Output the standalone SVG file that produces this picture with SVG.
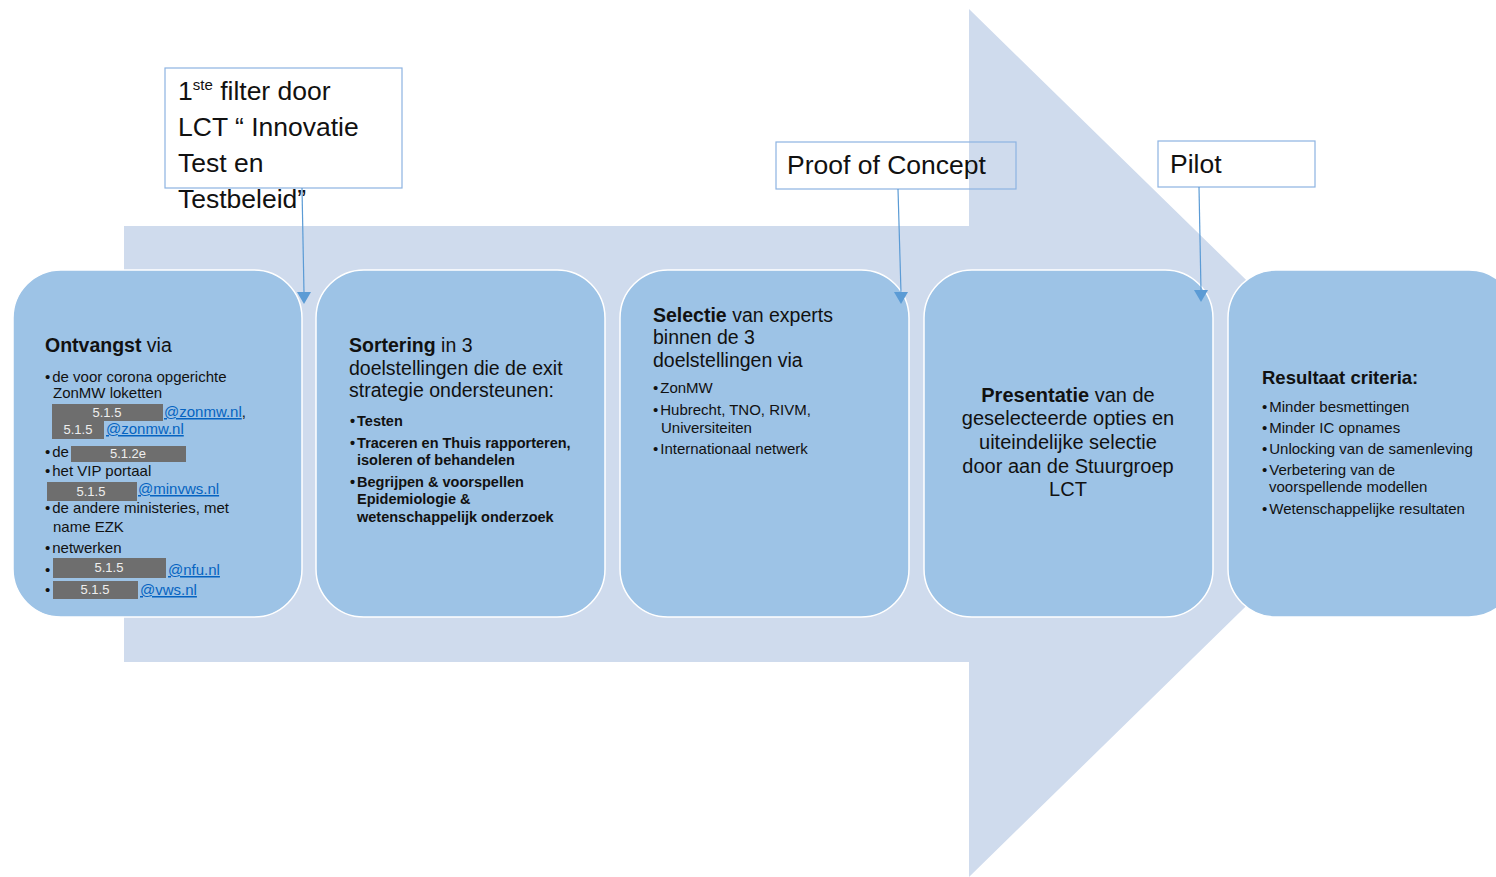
<svg xmlns="http://www.w3.org/2000/svg" width="1496" height="877" viewBox="0 0 1496 877">
<defs>
<style>
.t{font-family:"Liberation Sans",Arial,sans-serif;fill:#111;}
.h{font-size:19.5px;}
.b{font-size:15px;}
.bb{font-size:14.5px;font-weight:bold;}
.bold{font-weight:bold;}
.box{fill:#9DC3E6;stroke:#FFFFFF;stroke-width:1.5;}
.call{fill:none;stroke:#8DB3E2;stroke-width:1.2;}
.ct{font-family:"Liberation Sans",Arial,sans-serif;fill:#111;font-size:26.5px;}
.red{fill:#6E6E6E;}
.rt{font-family:"Liberation Sans",Arial,sans-serif;fill:#EEEEEE;font-size:13px;text-anchor:middle;}
.lk{font-family:"Liberation Sans",Arial,sans-serif;fill:#0563C1;font-size:15px;text-decoration:underline;}
.con{stroke:#5B9BD5;stroke-width:1.2;fill:none;}
.ah{fill:#5B9BD5;}
</style>
</defs>
<rect width="1496" height="877" fill="#FFFFFF"/>
<g id="big-arrow">
<polygon points="124,226 969,226 969,9 1413,443 969,877 969,662 124,662" fill="#CFDBED"/>
</g>
<g id="node-ontvangst">
<rect class="box" x="13" y="270" width="289" height="347" rx="48" ry="48"/>
<text class="t h" x="45" y="352"><tspan class="bold">Ontvangst</tspan> via</text>
<text class="t b" x="45" y="382">•<tspan dx="2">de voor corona opgerichte</tspan></text>
<text class="t b" x="53" y="398">ZonMW loketten</text>
<rect class="red" x="52" y="404" width="111" height="17"/>
<text class="rt" x="107" y="417">5.1.5</text>
<text x="164" y="417" class="t b"><tspan class="lk">@zonmw.nl</tspan>,</text>
<rect class="red" x="52" y="421" width="52" height="18"/>
<text class="rt" x="78" y="434">5.1.5</text>
<text class="lk" x="106" y="434">@zonmw.nl</text>
<text class="t b" x="45" y="457">•<tspan dx="2">de</tspan></text>
<rect class="red" x="71" y="446" width="115" height="16"/>
<text class="rt" x="128" y="458">5.1.2e</text>
<text class="t b" x="45" y="476">•<tspan dx="2">het VIP portaal</tspan></text>
<rect class="red" x="47" y="482" width="90" height="19"/>
<text class="rt" x="91" y="496">5.1.5</text>
<text class="lk" x="138" y="494">@minvws.nl</text>
<text class="t b" x="45" y="513">•<tspan dx="2">de andere ministeries, met</tspan></text>
<text class="t b" x="53" y="532">name EZK</text>
<text class="t b" x="45" y="553">•<tspan dx="2">netwerken</tspan></text>
<text class="t b" x="45" y="575">•</text>
<rect class="red" x="53" y="558" width="113" height="20"/>
<text class="rt" x="109" y="572">5.1.5</text>
<text class="lk" x="168" y="575">@nfu.nl</text>
<text class="t b" x="45" y="595">•</text>
<rect class="red" x="53" y="581" width="85" height="18"/>
<text class="rt" x="95" y="594">5.1.5</text>
<text class="lk" x="140" y="595">@vws.nl</text>
</g>
<g id="node-sortering">
<rect class="box" x="316" y="270" width="289" height="347" rx="48" ry="48"/>
<text class="t h" x="349" y="352"><tspan class="bold">Sortering</tspan> in 3</text>
<text class="t h" x="349" y="375">doelstellingen die de exit</text>
<text class="t h" x="349" y="397">strategie ondersteunen:</text>
<text class="t bb" x="350" y="426">•<tspan dx="2">Testen</tspan></text>
<text class="t bb" x="350" y="448">•<tspan dx="2">Traceren en Thuis rapporteren,</tspan></text>
<text class="t bb" x="357" y="465">isoleren of behandelen</text>
<text class="t bb" x="350" y="487">•<tspan dx="2">Begrijpen &amp; voorspellen</tspan></text>
<text class="t bb" x="357" y="504">Epidemiologie &amp;</text>
<text class="t bb" x="357" y="522">wetenschappelijk onderzoek</text>
</g>
<g id="node-selectie">
<rect class="box" x="620" y="270" width="289" height="347" rx="48" ry="48"/>
<text class="t h" x="653" y="322"><tspan class="bold">Selectie</tspan> van experts</text>
<text class="t h" x="653" y="344">binnen de 3</text>
<text class="t h" x="653" y="367">doelstellingen via</text>
<text class="t b" x="653" y="393">•<tspan dx="2">ZonMW</tspan></text>
<text class="t b" x="653" y="415">•<tspan dx="2">Hubrecht, TNO, RIVM,</tspan></text>
<text class="t b" x="661" y="433">Universiteiten</text>
<text class="t b" x="653" y="454">•<tspan dx="2">Internationaal netwerk</tspan></text>
</g>
<g id="node-presentatie">
<rect class="box" x="924" y="270" width="289" height="347" rx="48" ry="48"/>
<g text-anchor="middle" font-size="20px">
<text class="t" x="1068" y="402"><tspan class="bold">Presentatie</tspan> van de</text>
<text class="t" x="1068" y="425">geselecteerde opties en</text>
<text class="t" x="1068" y="449">uiteindelijke selectie</text>
<text class="t" x="1068" y="473">door aan de Stuurgroep</text>
<text class="t" x="1068" y="496">LCT</text>
</g>
</g>
<g id="node-resultaat">
<rect class="box" x="1228" y="270" width="289" height="347" rx="48" ry="48"/>
<text class="t bold" x="1262" y="384" font-size="18.5">Resultaat criteria:</text>
<text class="t b" x="1262" y="412">•<tspan dx="2">Minder besmettingen</tspan></text>
<text class="t b" x="1262" y="433">•<tspan dx="2">Minder IC opnames</tspan></text>
<text class="t b" x="1262" y="454">•<tspan dx="2">Unlocking van de samenleving</tspan></text>
<text class="t b" x="1262" y="475">•<tspan dx="2">Verbetering van de</tspan></text>
<text class="t b" x="1269" y="492">voorspellende modellen</text>
<text class="t b" x="1262" y="514">•<tspan dx="2">Wetenschappelijke resultaten</tspan></text>
</g>
<g id="callout-filter">
<rect class="call" x="165" y="68" width="237" height="120"/>
<text class="ct" x="178" y="100">1<tspan font-size="15" dy="-10">ste</tspan><tspan dy="10"> filter door</tspan></text>
<text class="ct" x="178" y="136">LCT “ Innovatie</text>
<text class="ct" x="178" y="172">Test en</text>
<text class="ct" x="178" y="208">Testbeleid”</text>
</g>
<g id="callout-poc">
<rect class="call" x="776" y="142" width="240" height="47"/>
<text class="ct" x="787" y="174" font-size="27px">Proof of Concept</text>
</g>
<g id="callout-pilot">
<rect class="call" x="1158" y="141" width="157" height="46"/>
<text class="ct" x="1170" y="173" font-size="27px">Pilot</text>
</g>
<g id="connectors">
<line class="con" x1="302" y1="188" x2="304" y2="293"/>
<polygon class="ah" points="297,292 311,292 304,304"/>
<line class="con" x1="898" y1="189" x2="901" y2="293"/>
<polygon class="ah" points="894,292 908,292 901,304"/>
<line class="con" x1="1199" y1="187" x2="1201" y2="291"/>
<polygon class="ah" points="1194,290 1208,290 1201,302"/>
</g>
</svg>
